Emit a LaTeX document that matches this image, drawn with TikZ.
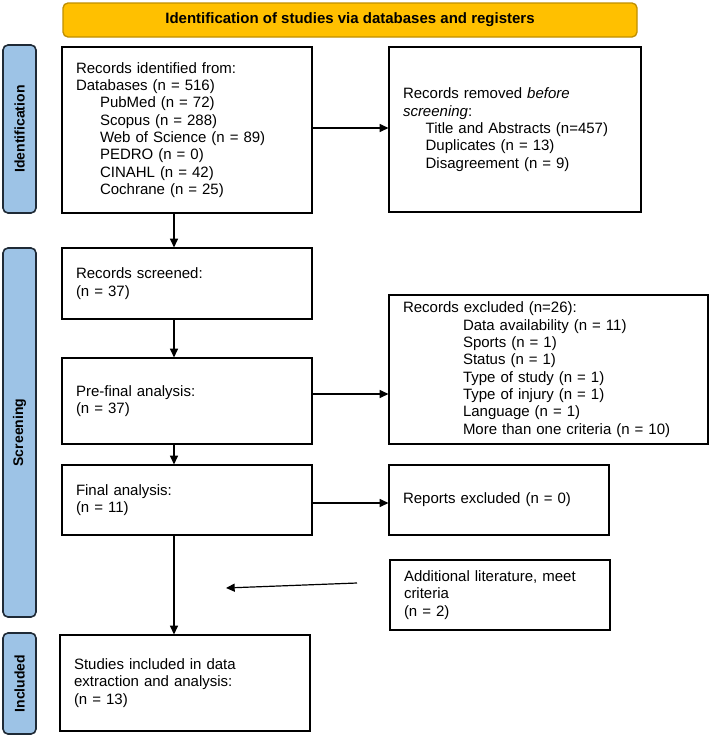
\documentclass[tikz,border=0pt]{standalone}
\usepackage{fontspec}
\setmainfont{Liberation Sans}
\usetikzlibrary{arrows.meta}
\definecolor{headgold}{HTML}{FFC000}
\definecolor{headedge}{HTML}{C08F00}
\definecolor{barblue}{HTML}{9DC3E6}
\definecolor{baredge}{HTML}{1F2A36}

\begin{document}
\begin{tikzpicture}[x=0.75pt, y=-0.75pt,
	every node/.style = {font=\fontsize{11.25pt}{13pt}\selectfont},
	box/.style = {draw, line width=0.9pt, align=left, inner xsep=10.5pt, inner ysep=0pt},
	phase/.style = {draw=baredge, fill=barblue, line width=1.2pt, rounded corners=3.75pt, rotate=90, minimum height=24.75pt, font=\fontsize{10.5pt}{13pt}\selectfont\bfseries},
	arr/.style = {line width=0.9pt, -{Triangle[length=6.5pt,width=6pt]}}]
	\useasboundingbox (0,0) rectangle (709,736);
	% header and phase bars
	\node[draw=headedge, fill=headgold, line width=1pt, rounded corners=3.75pt, minimum width=430.5pt, minimum height=25.5pt, font=\fontsize{11.25pt}{13pt}\selectfont\bfseries] (head) at (350,20) {Identification of studies via databases and registers};
	\node[phase, minimum width=126pt] (idbar) at (19.5,129) {Identification};
	\node[phase, minimum width=276.75pt] (scrbar) at (19.5,432.5) {Screening};
	\node[phase, minimum width=75.75pt] (incbar) at (19.5,683.5) {Included};
	% left column
	\node[box, text width=166.5pt, minimum height=124.5pt] (rec) at (187,130) {Records identified from:\\Databases (n = 516)\\
		\hspace*{18pt}PubMed (n = 72)\\
		\hspace*{18pt}Scopus (n = 288)\\
		\hspace*{18pt}Web of Science (n = 89)\\
		\hspace*{18pt}PEDRO (n = 0)\\
		\hspace*{18pt}CINAHL (n = 42)\\
		\hspace*{18pt}Cochrane (n = 25)};
	\node[box, text width=166.5pt, minimum height=53.25pt] (scr) at (187,283.5) {Records screened:\\(n = 37)};
	\node[box, text width=166.5pt, minimum height=64.5pt] (pre) at (187,401) {Pre-final analysis:\\(n = 37)\\[6pt]};
	\node[box, text width=166.5pt, minimum height=52.5pt] (fin) at (187,500) {Final analysis:\\(n = 11)};
	\node[box, text width=166.5pt, minimum height=72pt] (inc) at (185,683) {Studies included in data\\extraction and analysis:\\(n = 13)};
	% right column
	\node[box, text width=168pt, minimum height=123.75pt] (rem) at (515,129.5) {Records removed \textit{before}\\\textit{screening}:\\
		\hspace*{17pt}Title and Abstracts (n=457)\\
		\hspace*{17pt}Duplicates (n = 13)\\
		\hspace*{17pt}Disagreement (n = 9)};
	\node[box, text width=218.25pt, minimum height=111.75pt] (exc) at (548.5,369.5) {Records excluded (n=26):\\
		\hspace*{45pt}Data availability (n = 11)\\
		\hspace*{45pt}Sports (n = 1)\\
		\hspace*{45pt}Status (n = 1)\\
		\hspace*{45pt}Type of study (n = 1)\\
		\hspace*{45pt}Type of injury (n = 1)\\
		\hspace*{45pt}Language (n = 1)\\
		\hspace*{45pt}More than one criteria (n = 10)};
	\node[box, text width=144pt, minimum height=52.5pt] (rep) at (499,500) {Reports excluded (n = 0)\\[4pt]};
	\node[box, text width=144pt, minimum height=52.5pt] (add) at (500,595) {Additional literature, meet\\criteria\\(n = 2)};
	% connectors
	\coordinate (spine) at (174,0);
	\coordinate (addtail) at (357,583);
	\coordinate (addtip) at (226,588);
	\draw[arr] (rec.south -| spine) -- (scr.north -| spine);
	\draw[arr] (scr.south -| spine) -- (pre.north -| spine);
	\draw[arr] (pre.south -| spine) -- (fin.north -| spine);
	\draw[arr] (fin.south -| spine) -- (inc.north -| spine);
	\draw[arr] ([yshift=1.5pt]rec.east) -- ([yshift=1.5pt]rec.east -| rem.west);
	\draw[arr] ([yshift=5.25pt]pre.east) -- ([yshift=5.25pt]pre.east -| exc.west);
	\draw[arr] ([yshift=-2.25pt]fin.east) -- ([yshift=-2.25pt]fin.east -| rep.west);
	\draw[arr] (addtail) -- (addtip);
\end{tikzpicture}
\end{document}
